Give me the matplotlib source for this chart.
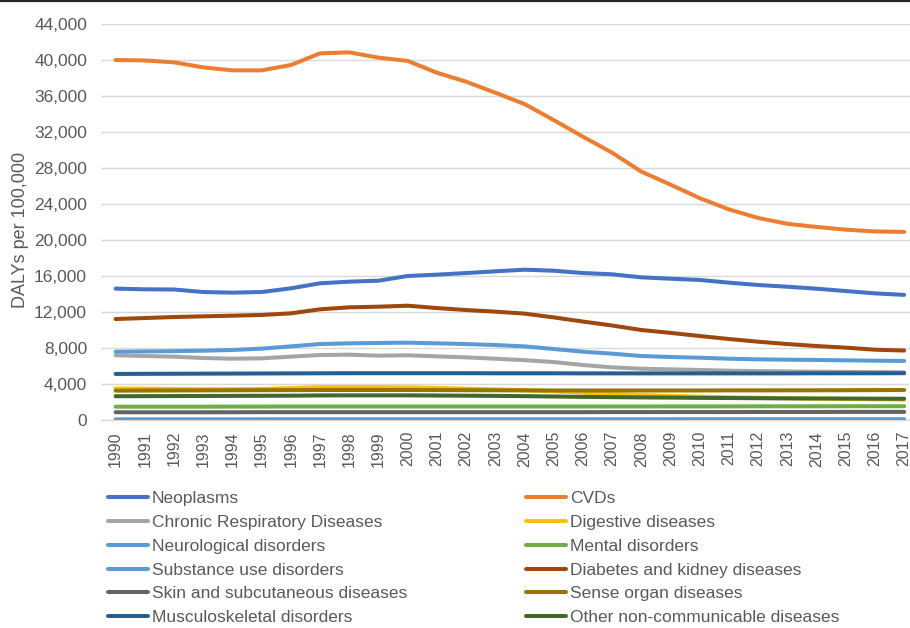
import matplotlib
matplotlib.use("Agg")
import matplotlib.pyplot as plt
from matplotlib.lines import Line2D
from matplotlib.ticker import FuncFormatter, MultipleLocator

plt.rcParams["font.family"] = ["Liberation Sans", "DejaVu Sans"]

years = list(range(1990, 2018))

neoplasms = [14600, 14520, 14500, 14220, 14150, 14220, 14630, 15190, 15370, 15480,
             16000, 16150, 16330, 16520, 16700, 16590, 16330, 16190, 15850, 15700,
             15560, 15260, 15000, 14810, 14590, 14330, 14070, 13900]
cvds = [40000, 39950, 39740, 39180, 38850, 38850, 39440, 40740, 40850, 40260,
        39900, 38590, 37590, 36370, 35110, 33330, 31480, 29700, 27600, 26150,
        24650, 23400, 22450, 21800, 21450, 21150, 20950, 20900]
chronic_resp = [7190, 7110, 7040, 6890, 6810, 6850, 7040, 7220, 7260, 7150,
                7190, 7070, 6960, 6810, 6650, 6440, 6110, 5850, 5700, 5630,
                5560, 5480, 5440, 5400, 5370, 5340, 5320, 5300]
digestive = [3500, 3480, 3450, 3420, 3420, 3450, 3550, 3650, 3650, 3650,
             3620, 3560, 3480, 3400, 3300, 3180, 3050, 2900, 2780, 2680,
             2600, 2520, 2470, 2420, 2380, 2340, 2300, 2260]
neurological = [7590, 7620, 7650, 7700, 7780, 7930, 8180, 8440, 8520, 8560,
                8590, 8520, 8440, 8330, 8180, 7890, 7590, 7370, 7110, 7000,
                6920, 6810, 6740, 6700, 6670, 6630, 6590, 6560]
mental = [1480, 1480, 1480, 1480, 1490, 1490, 1500, 1500, 1500, 1500,
          1500, 1500, 1500, 1500, 1500, 1500, 1500, 1500, 1500, 1510,
          1510, 1510, 1520, 1520, 1520, 1530, 1530, 1530]
substance_use = [80, 80, 80, 80, 80, 80, 85, 85, 85, 85,
                 85, 85, 85, 85, 85, 85, 85, 85, 85, 85,
                 90, 90, 90, 90, 90, 90, 90, 90]
diabetes_kidney = [11220, 11330, 11440, 11520, 11590, 11670, 11850, 12300, 12520, 12590,
                   12700, 12440, 12220, 12040, 11820, 11400, 10940, 10500, 10000, 9680,
                   9330, 9000, 8700, 8440, 8220, 8040, 7810, 7720]
skin = [860, 860, 860, 860, 860, 870, 870, 870, 870, 870,
        870, 870, 870, 870, 870, 870, 870, 880, 880, 880,
        880, 880, 890, 890, 890, 900, 900, 900]
sense_organ = [3260, 3270, 3280, 3290, 3300, 3310, 3320, 3330, 3330, 3330,
               3330, 3320, 3310, 3300, 3290, 3280, 3280, 3280, 3280, 3280,
               3280, 3290, 3290, 3300, 3300, 3310, 3320, 3330]
musculoskeletal = [5120, 5130, 5140, 5150, 5160, 5170, 5180, 5190, 5200, 5200,
                   5200, 5200, 5200, 5190, 5190, 5190, 5180, 5180, 5180, 5180,
                   5180, 5180, 5180, 5180, 5190, 5190, 5190, 5200]
other_ncd = [2640, 2650, 2660, 2670, 2680, 2690, 2700, 2730, 2740, 2740,
             2740, 2720, 2700, 2680, 2650, 2610, 2570, 2540, 2510, 2490,
             2460, 2440, 2420, 2400, 2390, 2380, 2370, 2360]

series = [
    ("Neoplasms", neoplasms, "#4472C4"),
    ("CVDs", cvds, "#ED7D31"),
    ("Chronic Respiratory Diseases", chronic_resp, "#A5A5A5"),
    ("Digestive diseases", digestive, "#FFC000"),
    ("Neurological disorders", neurological, "#5B9BD5"),
    ("Mental disorders", mental, "#70AD47"),
    ("Substance use disorders", substance_use, "#5B9BD5"),
    ("Diabetes and kidney diseases", diabetes_kidney, "#9E480E"),
    ("Skin and subcutaneous diseases", skin, "#636363"),
    ("Sense organ diseases", sense_organ, "#997300"),
    ("Musculoskeletal disorders", musculoskeletal, "#255E91"),
    ("Other non-communicable diseases", other_ncd, "#43682B"),
]

W, H = 910, 628
fig = plt.figure(figsize=(W / 100, H / 100), dpi=100)
ax = fig.add_axes([101 / W, 1 - 420 / H, 1 - 101 / W, (420 - 24) / H])

text_color = "#595959"
grid_color = "#D9D9D9"
x = list(range(len(years)))

handles = {}
for name, vals, col in series:
    (ln,) = ax.plot(x, vals, color=col, lw=2.9, solid_capstyle="round",
                    solid_joinstyle="round", zorder=3)
    handles[name] = ln

ax.set_xlim(-0.5, 27.2)
ax.set_ylim(0, 44000)
ax.yaxis.set_major_locator(MultipleLocator(4000))
ax.yaxis.set_major_formatter(FuncFormatter(lambda v, p: f"{int(v):,}"))
ax.set_xticks(x)
ax.set_xticklabels([str(y) for y in years], rotation=90)
ax.grid(axis="y", color=grid_color, lw=1.0, zorder=0)
for s in ("top", "right", "left"):
    ax.spines[s].set_visible(False)
ax.spines["bottom"].set_color(grid_color)
ax.spines["bottom"].set_linewidth(1.0)
ax.tick_params(axis="both", length=0, colors=text_color)
ax.tick_params(axis="x", pad=8, labelsize=11.5)
ax.tick_params(axis="y", pad=10, labelsize=12.5)
ax.set_ylabel("DALYs per 100,000", color=text_color, fontsize=13)
ax.yaxis.set_label_coords((29 - 101) / 809, (420 - 230) / 396)

left_names = ["Neoplasms", "Chronic Respiratory Diseases", "Neurological disorders",
              "Substance use disorders", "Skin and subcutaneous diseases",
              "Musculoskeletal disorders"]
right_names = ["CVDs", "Digestive diseases", "Mental disorders",
               "Diabetes and kidney diseases", "Sense organ diseases",
               "Other non-communicable diseases"]

for names, xpos in ((left_names, 108), (right_names, 526)):
    leg = fig.legend([handles[n] for n in names], names,
                     loc="upper left", bbox_to_anchor=(xpos / W, 1 - 491 / H),
                     frameon=False, fontsize=12.5, handlelength=2.3,
                     handletextpad=0.23, labelspacing=0.5, borderpad=0,
                     borderaxespad=0)
    for t in leg.get_texts():
        t.set_color(text_color)

fig.add_artist(Line2D([0, 1], [1 - 1 / H, 1 - 1 / H], transform=fig.transFigure,
                      color="#262626", lw=1.6))

fig.savefig("out.png", dpi=100)
